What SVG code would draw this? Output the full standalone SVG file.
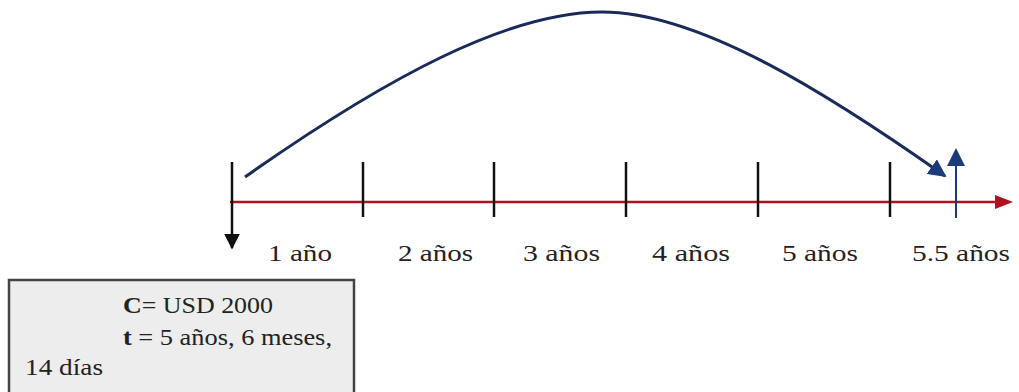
<svg xmlns="http://www.w3.org/2000/svg" width="1019" height="392" viewBox="0 0 1019 392">
<defs>
<style>
.lbl{font-family:"Liberation Serif","Times New Roman",serif;font-size:24px;fill:#222}
.tick{stroke:#111;stroke-width:2.5}
</style>
<marker id="ak" viewBox="0 0 10 10" refX="9" refY="5" markerWidth="16" markerHeight="16" orient="auto" markerUnits="userSpaceOnUse"><path d="M0,0L10,5L0,10z" fill="#111"/></marker>
<marker id="ab" viewBox="0 0 10 10" refX="9" refY="5" markerWidth="18" markerHeight="18" orient="auto" markerUnits="userSpaceOnUse"><path d="M0,0L10,5L0,10z" fill="#1a3a7a"/></marker>
</defs>
<rect width="1019" height="392" fill="#fff"/>
<g id="connectors">
<line x1="230" y1="202" x2="998" y2="202" stroke="#b01020" stroke-width="2.5"/>
<path d="M995,195L1013,202L995,209z" fill="#b01020"/>
<line x1="232" y1="162" x2="232" y2="248" stroke="#111" stroke-width="2.5" marker-end="url(#ak)"/>
<line class="tick" x1="363" y1="162" x2="363" y2="217"/>
<line class="tick" x1="494" y1="162" x2="494" y2="217"/>
<line class="tick" x1="626" y1="162" x2="626" y2="217"/>
<line class="tick" x1="758" y1="162" x2="758" y2="217"/>
<line class="tick" x1="890" y1="162" x2="890" y2="217"/>
<line x1="956" y1="218" x2="956" y2="160" stroke="#1a3a7a" stroke-width="2"/>
<path d="M956,148L965,166L947,166z" fill="#1a3a7a"/>
<path d="M245,177 C390,75 510,12 602,12 C700,12 830,95 945,176" fill="none" stroke="#1a2a5a" stroke-width="3" marker-end="url(#ab)"/>
</g>
<g id="labels">
<text class="lbl" x="268" y="261" textLength="64" lengthAdjust="spacingAndGlyphs">1 año</text>
<text class="lbl" x="398" y="261" textLength="75" lengthAdjust="spacingAndGlyphs">2 años</text>
<text class="lbl" x="523" y="261" textLength="77" lengthAdjust="spacingAndGlyphs">3 años</text>
<text class="lbl" x="652" y="261" textLength="78" lengthAdjust="spacingAndGlyphs">4 años</text>
<text class="lbl" x="782" y="261" textLength="76" lengthAdjust="spacingAndGlyphs">5 años</text>
<text class="lbl" x="912" y="261" textLength="98" lengthAdjust="spacingAndGlyphs">5.5 años</text>
</g>
<g id="box">
<rect x="9" y="280" width="345" height="125" fill="#ededed" stroke="#444" stroke-width="2.5"/>
<text class="lbl" x="123" y="313" textLength="150" lengthAdjust="spacingAndGlyphs"><tspan font-weight="bold">C</tspan>= USD 2000</text>
<text class="lbl" x="123" y="345" textLength="209" lengthAdjust="spacingAndGlyphs"><tspan font-weight="bold">t</tspan> = 5 años, 6 meses,</text>
<text class="lbl" x="25" y="375" textLength="78" lengthAdjust="spacingAndGlyphs">14 días</text>
</g>
</svg>
